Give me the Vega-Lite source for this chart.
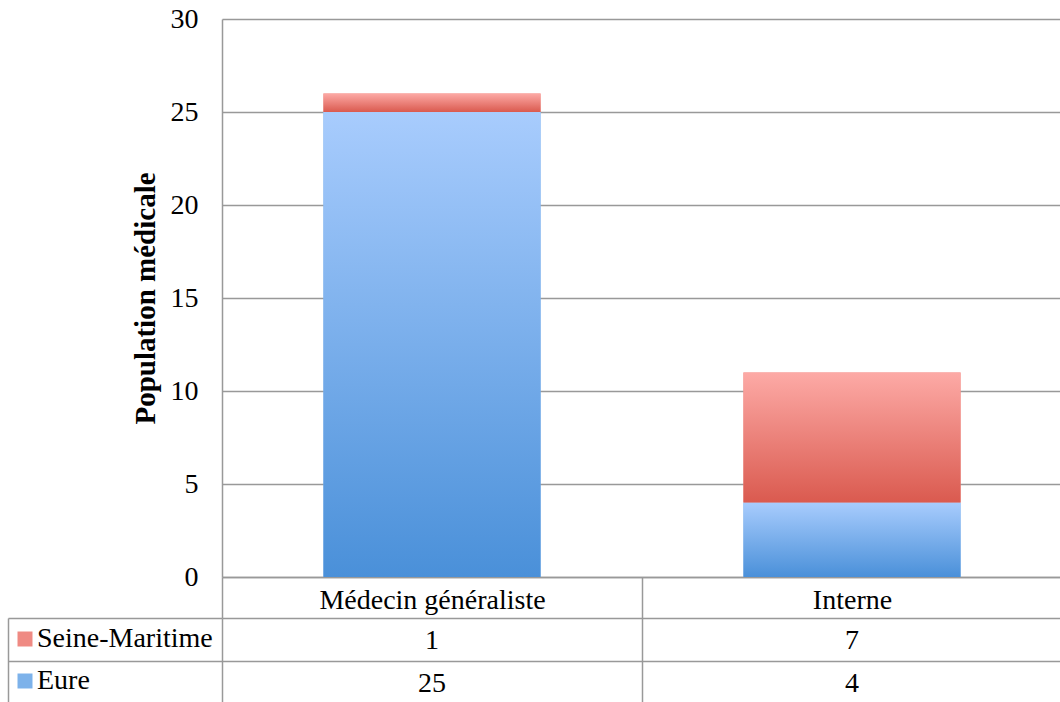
{
  "$schema": "https://vega.github.io/schema/vega-lite/v6.json",
  "padding": {"left": 7, "top": 5, "right": 0, "bottom": 0},
  "config": {
    "font": "Liberation Serif",
    "view": {"stroke": null}
  },
  "spacing": 41,
  "bounds": "flush",
  "resolve": {"scale": {"color": "independent"}},
  "datasets": {
    "pop": [
      {"categorie": "Médecin généraliste", "serie": "Eure", "valeur": 25},
      {"categorie": "Médecin généraliste", "serie": "Seine-Maritime", "valeur": 1},
      {"categorie": "Interne", "serie": "Eure", "valeur": 4},
      {"categorie": "Interne", "serie": "Seine-Maritime", "valeur": 7}
    ]
  },
  "vconcat": [
    {
      "width": 840,
      "height": 558,
      "data": {"name": "pop"},
      "transform": [
        {"stack": "valeur", "groupby": ["categorie"], "sort": [{"field": "serie", "order": "ascending"}], "as": ["bas", "haut"]}
      ],
      "encoding": {
        "x": {
          "field": "categorie", "type": "nominal",
          "sort": ["Médecin généraliste", "Interne"],
          "scale": {"paddingInner": 0, "paddingOuter": 0},
          "axis": {
            "title": null, "labelAngle": 0, "labelFontSize": 28, "labelColor": "#000",
            "labelBaseline": "middle", "labelPadding": -18, "labelLimit": 0,
            "tickBand": "extent", "tickSize": 41, "tickColor": "#999", "tickWidth": 1.5,
            "domainColor": "#999", "domainWidth": 1.5, "grid": false
          }
        },
        "y": {
          "field": "bas", "type": "quantitative",
          "scale": {"domain": [0, 30]},
          "axis": {
            "title": "Population médicale", "titleFontSize": 29, "titleFontWeight": "bold",
            "titleColor": "#000", "titlePadding": 10,
            "values": [0, 5, 10, 15, 20, 25, 30],
            "labelFontSize": 28, "labelColor": "#000", "labelPadding": 24,
            "ticks": false, "tickSize": 0,
            "domainColor": "#999", "domainWidth": 1.5,
            "grid": true, "gridColor": "#999", "gridWidth": 1.5
          }
        },
        "y2": {"field": "haut"}
      },
      "layer": [
        {
          "mark": {"type": "bar", "width": {"band": 0.517}},
          "encoding": {
            "color": {
              "field": "serie", "type": "nominal",
              "scale": {"domain": ["Seine-Maritime", "Eure"], "range": ["#ef8a83", "#7db2ea"]},
              "legend": {
                "title": null, "orient": "none", "legendX": -211, "legendY": 606,
                "direction": "vertical", "padding": 0,
                "labelFontSize": 28, "labelColor": "#000", "labelOffset": -2, "labelLimit": 0,
                "symbolType": "square", "symbolSize": 225, "symbolStrokeWidth": 0,
                "symbolOpacity": 1, "rowPadding": 14
              }
            }
          }
        },
        {
          "transform": [{"filter": "datum.serie === 'Eure'"}],
          "mark": {
            "type": "bar", "width": {"band": 0.517},
            "color": {"gradient": "linear", "x1": 0, "y1": 0, "x2": 0, "y2": 1,
              "stops": [{"offset": 0, "color": "#a8ccfd"}, {"offset": 1, "color": "#4a90d9"}]}
          }
        },
        {
          "transform": [{"filter": "datum.serie === 'Seine-Maritime'"}],
          "mark": {
            "type": "bar", "width": {"band": 0.517},
            "color": {"gradient": "linear", "x1": 0, "y1": 0, "x2": 0, "y2": 1,
              "stops": [{"offset": 0, "color": "#fdaaa6"}, {"offset": 1, "color": "#da5a4f"}]}
          }
        }
      ]
    },
    {
      "width": 840,
      "height": 85,
      "data": {"name": "pop"},
      "mark": {"type": "text", "fontSize": 28, "color": "#000", "dy": 2},
      "encoding": {
        "x": {
          "field": "categorie", "type": "nominal",
          "sort": ["Médecin généraliste", "Interne"],
          "scale": {"paddingInner": 0, "paddingOuter": 0},
          "axis": {
            "title": null, "labels": false, "ticks": false, "domain": false,
            "grid": true, "tickBand": "extent", "gridColor": "#999", "gridWidth": 1.5
          }
        },
        "y": {
          "field": "serie", "type": "nominal",
          "sort": ["Seine-Maritime", "Eure"],
          "scale": {"paddingInner": 0, "paddingOuter": 0},
          "axis": {
            "title": null, "labels": false, "offset": 214,
            "ticks": true, "tickSize": -214, "tickBand": "extent",
            "tickColor": "#999", "tickWidth": 1.5,
            "domain": true, "domainColor": "#999", "domainWidth": 1.5,
            "grid": true, "gridColor": "#999", "gridWidth": 1.5
          }
        },
        "text": {"field": "valeur", "type": "quantitative"}
      }
    }
  ]
}
